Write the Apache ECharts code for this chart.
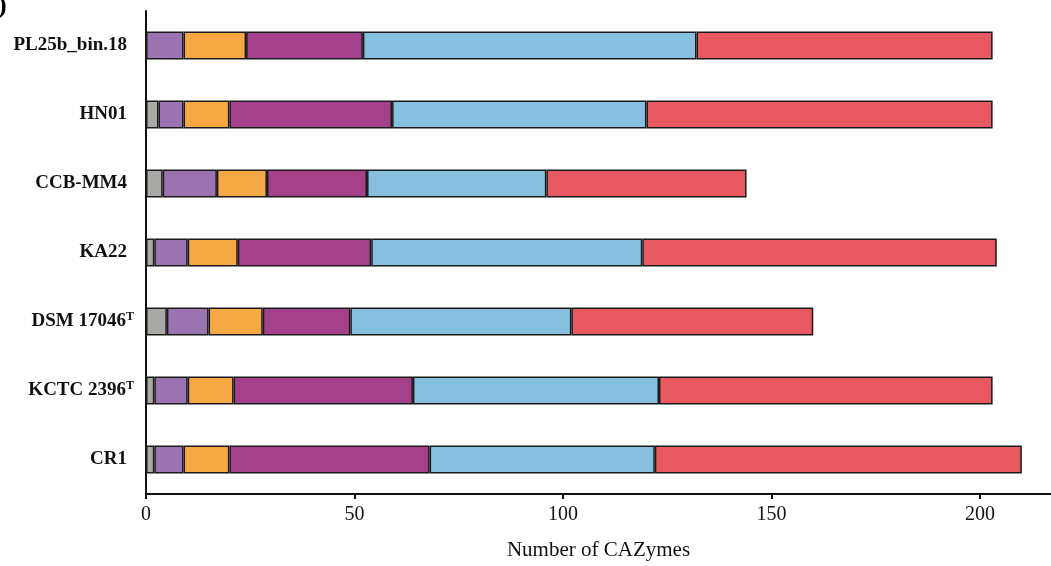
<!DOCTYPE html>
<html>
<head>
<meta charset="utf-8">
<script src="https://cdn.jsdelivr.net/npm/echarts@6/dist/echarts.min.js"></script>
<style>
  html, body { margin: 0; padding: 0; background: #fff; }
  #main { width: 1051px; height: 566px; }
</style>
</head>
<body>
<div id="main"></div>
<script>
// genomes, bottom to top as the y axis draws them
const genomes = ['CR1', 'KCTC 2396|T', 'DSM 17046|T', 'KA22', 'CCB-MM4', 'HN01', 'PL25b_bin.18'];

// CAZyme class counts per genome (same order as genomes)
const grayVals    = [2, 2, 5, 2, 4, 3, 0];
const purpleVals  = [7, 8, 10, 8, 13, 6, 9];
const orangeVals  = [11, 11, 13, 12, 12, 11, 15];
const magentaVals = [48, 43, 21, 32, 24, 39, 28];
const cyanVals    = [54, 59, 53, 65, 43, 61, 80];
const redVals     = [88, 80, 58, 85, 48, 83, 71];

const xTicks = [0, 50, 100, 150, 200];

const seriesDefs = [
  { name: 'AA',  data: grayVals,    color: '#a9a9a5' },
  { name: 'CBM', data: purpleVals,  color: '#9b73b1' },
  { name: 'PL',  data: orangeVals,  color: '#f5a843' },
  { name: 'CE',  data: magentaVals, color: '#a5408a' },
  { name: 'GT',  data: cyanVals,    color: '#87c0de' },
  { name: 'GH',  data: redVals,     color: '#e95962' }
];

const chart = echarts.init(document.getElementById('main'), null, { renderer: 'canvas' });

const option = {
  backgroundColor: '#fff',
  animation: false,
  textStyle: { fontFamily: '"Liberation Serif", "Times New Roman", serif' },
  title: {
    text: ')',
    left: -7,
    top: -12,
    textStyle: { fontSize: 26, fontWeight: 'bold', color: '#000', fontFamily: '"Liberation Serif", serif' }
  },
  grid: { left: 146, right: 0, top: 11, bottom: 67, containLabel: false },
  xAxis: {
    type: 'value',
    min: 0,
    max: 217,
    interval: 50,
    name: 'Number of CAZymes',
    nameLocation: 'middle',
    nameGap: 46,
    nameTextStyle: { fontSize: 21, color: '#111', fontFamily: '"Liberation Serif", serif' },
    axisLine: { show: true, lineStyle: { color: '#111', width: 2 } },
    axisTick: { show: true, length: 5, lineStyle: { color: '#111', width: 2 }, customValues: xTicks },
    axisLabel: { fontSize: 20, color: '#111', margin: 11, customValues: xTicks },
    splitLine: { show: false }
  },
  yAxis: {
    type: 'category',
    data: genomes,
    axisLine: { show: true, lineStyle: { color: '#111', width: 2 } },
    axisTick: { show: false },
    axisLabel: {
      margin: 12,
      formatter: function (v) {
        const parts = v.split('|');
        if (parts.length > 1) return '{b|' + parts[0] + '}{t|' + parts[1] + '}';
        return '{b|' + v + '}{g|}';
      },
      rich: {
        b: { fontSize: 19, fontWeight: 'bold', color: '#111', fontFamily: '"Liberation Serif", serif' },
        t: { fontSize: 12, fontWeight: 'bold', color: '#111', fontFamily: '"Liberation Serif", serif', verticalAlign: 'top', padding: [0, 0, 9, 0] },
        g: { width: 7 }
      }
    }
  },
  series: seriesDefs.map(function (s) {
    return {
      name: s.name,
      type: 'bar',
      stack: 'total',
      barWidth: 28,
      data: s.data,
      itemStyle: { color: s.color, borderColor: '#1a1a1a', borderWidth: 1.5 }
    };
  })
};

chart.setOption(option);
</script>
</body>
</html>
